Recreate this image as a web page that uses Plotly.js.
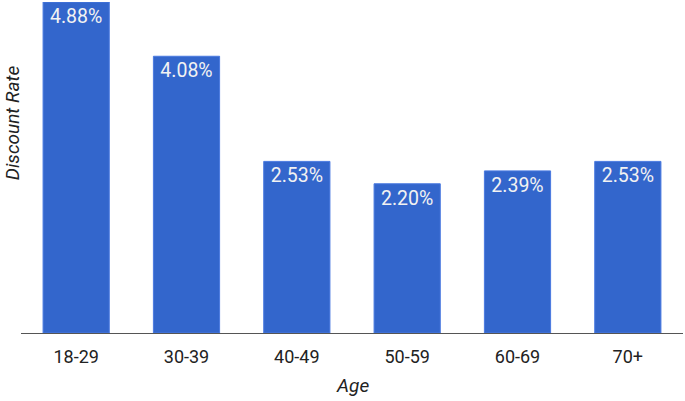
<!DOCTYPE html>
<html><head><meta charset="utf-8">
<script src="https://cdn.plot.ly/plotly-3.0.1.min.js"></script>
<style>html,body{margin:0;padding:0;background:#fff}#chart{width:685px;height:401px}</style>
</head><body><div id="chart"></div>
<script>
const categories = ["18-29","30-39","40-49","50-59","60-69","70+"];
const discountRate = [4.88, 4.08, 2.53, 2.20, 2.39, 2.53];
const valueLabels = ["4.88%","4.08%","2.53%","2.20%","2.39%","2.53%"];

const trace = {
  type: "bar",
  x: categories,
  y: discountRate,
  text: valueLabels,
  textposition: "inside",
  insidetextanchor: "end",
  textangle: 0,
  insidetextfont: {family: "Roboto, Arial, sans-serif", size: 19.5, color: "#f2f2f2"},
  marker: {color: "#3366cc", line: {color: "#4a7ae0", width: 1}},
  hoverinfo: "none",
  cliponaxis: false
};

const layout = {
  width: 685, height: 401,
  margin: {l: 21, r: 2, t: 2, b: 68},
  paper_bgcolor: "#ffffff", plot_bgcolor: "#ffffff",
  bargap: 0.4,
  showlegend: false,
  xaxis: {
    showgrid: false, zeroline: false,
    showline: true, linecolor: "#555", linewidth: 1,
    ticks: "", tickfont: {family: "Roboto, Arial, sans-serif", size: 18, color: "#222"},
    ticklabelstandoff: 7
  },
  yaxis: {
    range: [0, 4.88], showgrid: false, zeroline: false, showline: false,
    showticklabels: false, ticks: ""
  },
  annotations: [
    {text: "Age", xref: "paper", yref: "paper", x: 0.5, y: -0.158, yanchor: "middle", xanchor: "center",
     showarrow: false, font: {family: "Roboto, Arial, sans-serif", size: 19, color: "#222", style: "italic"}},
    {text: "Discount Rate", xref: "paper", yref: "paper", x: -0.013, xanchor: "center", y: 0.635, yanchor: "middle",
     textangle: -90, showarrow: false, font: {family: "Roboto, Arial, sans-serif", size: 19, color: "#222", style: "italic"}}
  ]
};

Plotly.newPlot("chart", [trace], layout, {displayModeBar: false, staticPlot: true});
</script>
</body></html>
